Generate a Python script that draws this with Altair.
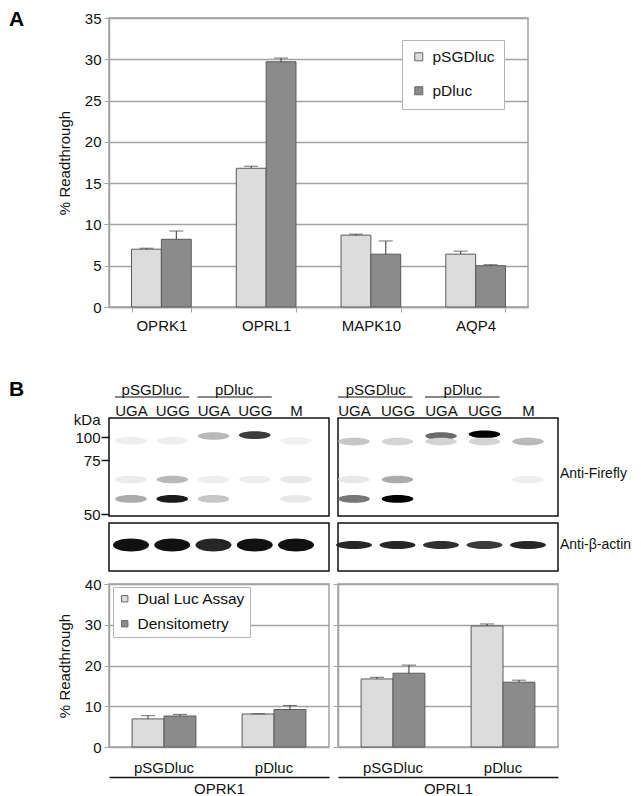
import altair as alt
import pandas as pd

FONT = "Liberation Sans"
GRID = "#a3a3a3"
LIGHT = "#dcdcdc"
DARK = "#8b8b8b"
BAR_STROKE = "#5a5a5a"
ERR = "#333333"
TXT = "#111111"

# ---------------- Panel A data ----------------
genes = ["OPRK1", "OPRL1", "MAPK10", "AQP4"]
constructs = ["pSGDluc", "pDluc"]
psgd_vals = [7.0, 16.8, 8.7, 6.4]
psgd_errs = [0.12, 0.25, 0.12, 0.36]
pdluc_vals = [8.2, 29.7, 6.4, 5.0]
pdluc_errs = [1.0, 0.45, 1.6, 0.12]
a_ticks = [0, 5, 10, 15, 20, 25, 30, 35]

# ---------------- Panel B bar data ----------------
b_genes = ["OPRK1", "OPRL1"]
methods = ["Dual Luc Assay", "Densitometry"]
oprk1_dual = [6.9, 8.1]
oprk1_dual_err = [0.8, 0.05]
oprk1_dens = [7.6, 9.2]
oprk1_dens_err = [0.4, 1.0]
oprl1_dual = [16.7, 29.7]
oprl1_dual_err = [0.4, 0.5]
oprl1_dens = [18.1, 15.9]
oprl1_dens_err = [2.0, 0.5]
b_ticks = [0, 10, 20, 30, 40]

# ---------------- Panel B blot data ----------------
lane_labels = ["UGA", "UGG", "UGA", "UGG", "M"]
lane_index = [0, 1, 2, 3, 4]
blot_groups = ["pSGDluc", "pDluc"]
group_first_lane = [0, 2]
group_last_lane = [1, 3]
kda_markers = [50, 75, 100]

oprk1_ff_lane = [0, 0, 0, 1, 1, 1, 2, 2, 2, 3, 3, 4, 4, 4]
oprk1_ff_kda = [57, 66, 96, 57, 66, 96, 57, 101, 66, 102, 66, 57, 66, 96]
oprk1_ff_int = [0.3, 0.07, 0.06, 0.9, 0.25, 0.06, 0.2, 0.25, 0.06, 0.75, 0.06, 0.08, 0.08, 0.05]
oprl1_ff_lane = [0, 0, 0, 1, 1, 1, 2, 2, 3, 3, 4, 4]
oprl1_ff_kda = [57, 95, 66, 57, 66, 95, 101, 95, 103, 95, 95, 66]
oprl1_ff_int = [0.5, 0.2, 0.08, 1.0, 0.3, 0.15, 0.55, 0.15, 1.0, 0.15, 0.25, 0.06]
oprk1_actin_int = [0.95, 0.95, 0.85, 0.95, 0.95]
oprl1_actin_int = [0.85, 0.85, 0.8, 0.75, 0.85]
actin_pos = 0.54

BAND_SHAPE = "M -1 0 A 1 0.24 0 1 0 1 0 A 1 0.24 0 1 0 -1 0 Z"
ACTIN_THICK = "M -1 0 A 1 0.36 0 1 0 1 0 A 1 0.36 0 1 0 -1 0 Z"
ACTIN_THIN = "M -1 0 A 1 0.22 0 1 0 1 0 A 1 0.22 0 1 0 -1 0 Z"

# ================= Panel A =================
dfA = pd.DataFrame({
    "gene": genes * 2,
    "construct": [constructs[0]] * len(genes) + [constructs[1]] * len(genes),
    "value": psgd_vals + pdluc_vals,
    "err": psgd_errs + pdluc_errs,
})
dfA["top"] = dfA["value"] + dfA["err"]

xA = alt.X("gene:N", sort=genes,
           scale=alt.Scale(domain=genes, paddingInner=0.43, paddingOuter=0.215),
           axis=alt.Axis(title=None, labelAngle=0, labelFontSize=15, labelPadding=6,
                         tickBand="extent", tickSize=5, tickColor=GRID, domainColor=GRID,
                         domainWidth=1.5))
xoA = alt.XOffset("construct:N",
                  scale=alt.Scale(domain=constructs, paddingInner=0, paddingOuter=0))
yA_axis = alt.Axis(values=a_ticks, title="% Readthrough", titleFontSize=15,
                   titleFontWeight="normal", titlePadding=12, labelFontSize=15,
                   labelPadding=3, tickSize=5, tickColor=GRID, domainColor=GRID,
                   domainWidth=1.5, gridColor=GRID, gridWidth=1.5)
yA_scale = alt.Scale(domain=[0, 35], nice=False)

barsA = alt.Chart(dfA).mark_bar(stroke=BAR_STROKE, strokeWidth=1).encode(
    x=xA, xOffset=xoA,
    y=alt.Y("value:Q", scale=yA_scale, axis=yA_axis),
    color=alt.Color("construct:N",
                    scale=alt.Scale(domain=constructs, range=[LIGHT, DARK]),
                    legend=alt.Legend(orient="none", legendX=293, legendY=22, title=None,
                                      padding=9, rowPadding=17, symbolType="square",
                                      symbolSize=64, symbolStrokeColor="#666",
                                      symbolStrokeWidth=1, labelFontSize=15.5, labelOffset=6,
                                      strokeColor="#b5b5b5", fillColor="white")),
)
errA = alt.Chart(dfA).mark_rule(color=ERR, strokeWidth=1).encode(
    x=xA, xOffset=xoA,
    y=alt.Y("value:Q", scale=yA_scale, axis=yA_axis), y2="top:Q")
capA = alt.Chart(dfA).mark_tick(color=ERR, thickness=1, size=14).encode(
    x=xA, xOffset=xoA, y=alt.Y("top:Q", scale=yA_scale, axis=yA_axis))
labA = alt.Chart(pd.DataFrame({"t": ["A"]})).mark_text(
    fontSize=21, fontWeight="bold", align="left", baseline="middle", color="#000").encode(
    text="t:N", x=alt.value(-100), y=alt.value(2))

chartA = alt.layer(barsA, errA, capA, labA).properties(
    width=419, height=289, view=alt.ViewBackground(stroke=GRID, strokeWidth=1.5))

# ================= Panel B blots =================
label_expr = str(lane_labels) + "[datum.value]"


def firefly_panel(lanes, kdas, ints, lane_range, left, xoffs):
    dfb = pd.DataFrame({"lane": lanes, "kda": kdas, "intensity": ints})
    xs = alt.Scale(domain=[0, 4], range=lane_range, nice=False, zero=False)
    xax = alt.Axis(orient="top", values=lane_index, labelExpr=label_expr, title=None,
                   domain=False, ticks=False, tickSize=0, grid=False, labelFontSize=15,
                   labelPadding=0, labelAngle=0, labelOverlap=False, labelFlush=False)
    ys = alt.Scale(domain=kda_markers, range=[96, 42, 19], nice=False, zero=False)
    if left:
        yax = alt.Axis(values=kda_markers, title="kDa", titleAngle=0, titleX=-9, titleY=1,
                       titleAlign="right", titleBaseline="middle", titleFontSize=15,
                       titleFontWeight="normal", labelFontSize=15, labelPadding=1,
                       labelOverlap=False, labelFlush=False,
                       tickSize=8, tickColor="#111", tickWidth=1.5, domain=False, grid=False)
    else:
        yax = None
    X = alt.X("lane:Q", scale=xs, axis=xax)
    bands = alt.Chart(dfb).mark_point(shape=BAND_SHAPE, filled=True, size=1000,
                                      opacity=1, strokeWidth=0).encode(
        x=X, y=alt.Y("kda:Q", scale=ys, axis=yax),
        color=alt.Color("intensity:Q", scale=alt.Scale(domain=[0, 1], range=["#ffffff", "#000000"]),
                        legend=None))
    dfg = pd.DataFrame({"name": blot_groups,
                        "lane": [(a + b) / 2 for a, b in zip(group_first_lane, group_last_lane)],
                        "first": group_first_lane, "last": group_last_lane})
    gtext = alt.Chart(dfg).mark_text(fontSize=15, baseline="middle", align="center").encode(
        x=X, y=alt.value(-28), text="name:N")
    gline = alt.Chart(dfg).mark_rule(color="#111", strokeWidth=1.2,
                                     xOffset=xoffs[0], x2Offset=xoffs[1]).encode(
        x=alt.X("first:Q", scale=xs, axis=xax), x2="last:Q", y=alt.value(-21))
    layers = [bands, gtext, gline]
    if left:
        layers.append(alt.Chart(pd.DataFrame({"t": ["B"]})).mark_text(
            fontSize=21, fontWeight="bold", align="left", baseline="middle", color="#000").encode(
            text="t:N", x=alt.value(-100), y=alt.value(-28)))
    else:
        layers.append(alt.Chart(pd.DataFrame({"t": ["Anti-Firefly"]})).mark_text(
            fontSize=14, align="left", baseline="middle").encode(
            text="t:N", x=alt.value(222), y=alt.value(56)))
    return alt.layer(*layers).properties(
        width=220, height=98, view=alt.ViewBackground(stroke="#111", strokeWidth=1.5))


def actin_panel(ints, lane_range, shape, left):
    dfa = pd.DataFrame({"lane": lane_index, "pos": [actin_pos] * 5, "intensity": ints})
    xs = alt.Scale(domain=[0, 4], range=lane_range, nice=False, zero=False)
    bands = alt.Chart(dfa).mark_point(shape=shape, filled=True, size=1300,
                                      opacity=1, strokeWidth=0).encode(
        x=alt.X("lane:Q", scale=xs, axis=None),
        y=alt.Y("pos:Q", scale=alt.Scale(domain=[0, 1], nice=False), axis=None),
        color=alt.Color("intensity:Q", scale=alt.Scale(domain=[0, 1], range=["#ffffff", "#000000"]),
                        legend=None))
    layers = [bands]
    if not left:
        layers.append(alt.Chart(pd.DataFrame({"t": ["Anti-β-actin"]})).mark_text(
            fontSize=14, align="left", baseline="middle").encode(
            text="t:N", x=alt.value(222), y=alt.value(22)))
    return alt.layer(*layers).properties(
        width=220, height=48, view=alt.ViewBackground(stroke="#111", strokeWidth=1.5))


ffL = firefly_panel(oprk1_ff_lane, oprk1_ff_kda, oprk1_ff_int, [22, 187], True, (-16, 17))
ffR = firefly_panel(oprl1_ff_lane, oprl1_ff_kda, oprl1_ff_int, [16, 190], False, (-16, 15))
acL = actin_panel(oprk1_actin_int, [22, 187], ACTIN_THICK, True)
acR = actin_panel(oprl1_actin_int, [16, 190], ACTIN_THIN, False)

# ================= Panel B bars =================


def bar_panel(gene, dual, dual_err, dens, dens_err, left):
    df = pd.DataFrame({
        "construct": constructs * 2,
        "method": [methods[0]] * 2 + [methods[1]] * 2,
        "value": dual + dens,
        "err": dual_err + dens_err,
    })
    df["top"] = df["value"] + df["err"]
    x = alt.X("construct:N",
              scale=alt.Scale(domain=constructs, paddingInner=0.42, paddingOuter=0.21),
              axis=alt.Axis(title=gene, offset=30, domainColor="#111", domainWidth=1.5,
                            ticks=False, tickSize=0, labelPadding=-10, labelBaseline="middle",
                            labelAngle=0, labelFontSize=15, titleFontSize=15,
                            titleFontWeight="normal", titlePadding=4))
    xo = alt.XOffset("method:N", scale=alt.Scale(domain=methods, paddingInner=0, paddingOuter=0))
    if left:
        yax = alt.Axis(values=b_ticks, title="% Readthrough", titleFontSize=15,
                       titleFontWeight="normal", titlePadding=12, labelFontSize=15,
                       labelPadding=3, tickSize=5, tickColor=GRID, domainColor=GRID,
                       domainWidth=1.5, gridColor=GRID, gridWidth=1.5)
        leg = alt.Legend(orient="none", legendX=4, legendY=3, title=None, padding=4,
                         rowPadding=8, symbolType="square", symbolSize=40,
                         symbolStrokeColor="#666", symbolStrokeWidth=1, labelFontSize=15.5,
                         labelOffset=5, strokeColor="#b5b5b5", fillColor="white")
    else:
        yax = alt.Axis(values=b_ticks, title=None, labels=False, tickSize=5, tickColor=GRID,
                       domainColor=GRID, domainWidth=1.5, gridColor=GRID, gridWidth=1.5)
        leg = None
    ys = alt.Scale(domain=[0, 40], nice=False)
    bars = alt.Chart(df).mark_bar(stroke=BAR_STROKE, strokeWidth=1).encode(
        x=x, xOffset=xo, y=alt.Y("value:Q", scale=ys, axis=yax),
        color=alt.Color("method:N",
                        scale=alt.Scale(domain=methods, range=[LIGHT, DARK]), legend=leg))
    err = alt.Chart(df).mark_rule(color=ERR, strokeWidth=1).encode(
        x=x, xOffset=xo, y=alt.Y("value:Q", scale=ys, axis=yax), y2="top:Q")
    cap = alt.Chart(df).mark_tick(color=ERR, thickness=1, size=14).encode(
        x=x, xOffset=xo, y=alt.Y("top:Q", scale=ys, axis=yax))
    return alt.layer(bars, err, cap).properties(
        width=220, height=163, view=alt.ViewBackground(stroke=GRID, strokeWidth=1.5))


bL = bar_panel(b_genes[0], oprk1_dual, oprk1_dual_err, oprk1_dens, oprk1_dens_err, True)
bR = bar_panel(b_genes[1], oprl1_dual, oprl1_dual_err, oprl1_dens, oprl1_dens_err, False)

IND = dict(color="independent", xOffset="independent")
ff_row = alt.hconcat(ffL, ffR, spacing=9, bounds="flush")
ac_row = alt.hconcat(acL, acR, spacing=9, bounds="flush")
bar_row = alt.hconcat(bL, bR, spacing=9, bounds="flush").resolve_scale(**IND)
blots = alt.vconcat(ff_row, ac_row, spacing=-6)
restB = alt.vconcat(blots, bar_row, spacing=4).resolve_scale(**IND)

chart = alt.vconcat(chartA, restB, spacing=44).resolve_scale(**IND).properties(
    padding=0).configure(font=FONT).configure_axis(
    labelFont=FONT, titleFont=FONT, labelColor=TXT, titleColor=TXT).configure_legend(
    labelFont=FONT, labelColor=TXT).configure_text(font=FONT, color=TXT)

chart.save("out.html", embed_options={"renderer": "svg", "actions": False})
